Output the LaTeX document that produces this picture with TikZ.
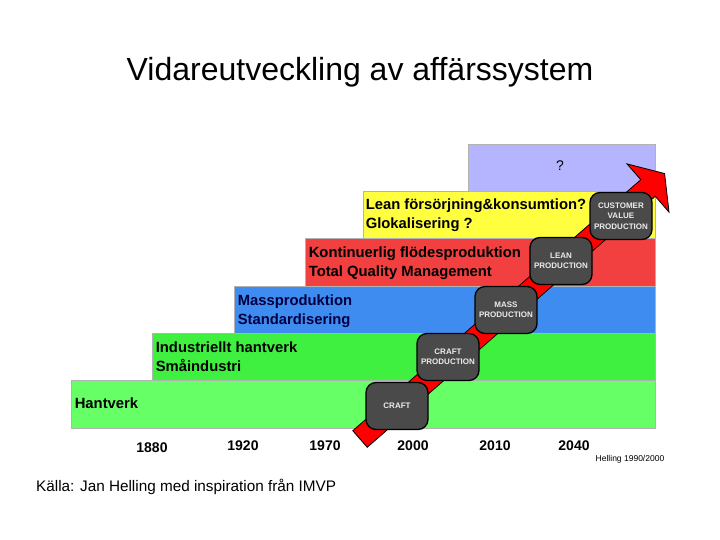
\documentclass[tikz,border=0pt]{standalone}
\usepackage{fontspec}
\setmainfont{Liberation Sans}
\usetikzlibrary{positioning,calc}

\definecolor{bandpurple}{HTML}{B4B4FF}
\definecolor{bandyellow}{HTML}{FFFF40}
\definecolor{bandred}{HTML}{F23F3F}
\definecolor{bandblue}{HTML}{3F8CF0}
\definecolor{bandgreen}{HTML}{40F040}
\definecolor{bandlight}{HTML}{66FF66}
\definecolor{stagegray}{HTML}{4A4A4A}
\definecolor{navytext}{HTML}{000040}

\begin{document}
\begin{tikzpicture}[x=1pt,y=1pt,
		band/.style={anchor=north east,inner sep=0pt,draw=gray!60,line width=0.4pt},
		bandtext/.style={anchor=north west,align=left,inner sep=0pt,font=\fontsize{14.8}{18.5}\selectfont\bfseries},
		stage/.style={rounded corners=10pt,fill=stagegray,draw=black,line width=1.3pt,minimum width=62,minimum height=47,inner sep=1pt,align=center,text=gray!15,font=\fontsize{8}{10.5}\selectfont\bfseries},
		year/.style={font=\fontsize{14}{14}\selectfont\bfseries}]
		\useasboundingbox (0,0) rectangle (720,540);

		\node[font=\fontsize{32}{32}\selectfont]	(title)	at (360,468)	{Vidareutveckling av affärssystem};

		% bands, lowest first
		\node[band,fill=bandlight,minimum width=584,minimum height=48]	(hantverk)	at (655,160)	{};
		\node[band,fill=bandgreen,minimum width=503,minimum height=47]	(industri)	at (655,207)	{};
		\node[band,fill=bandblue,minimum width=421,minimum height=47]	(mass)		at (655,254)	{};
		\node[band,fill=bandred,minimum width=350,minimum height=48]		(kont)		at (655,302)	{};
		\node[band,fill=bandyellow,minimum width=292,minimum height=47]	(lean)		at (655,349)	{};
		\node[band,fill=bandpurple,minimum width=187,minimum height=47]	(future)	at (655,396)	{};

		\node[bandtext,below right=18pt and 4pt of hantverk.north west]	(t0)	{Hantverk};
		\node[bandtext,below right=9pt and 4pt of industri.north west]	(t1)	{Industriellt hantverk\\Småindustri};
		\node[bandtext,text=navytext,below right=9pt and 4pt of mass.north west]	(t2)	{Massproduktion\\Standardisering};
		\node[bandtext,below right=9pt and 4pt of kont.north west]		(t3)	{Kontinuerlig flödesproduktion\\Total Quality Management};
		\node[bandtext,below right=8pt and 3pt of lean.north west]		(t4)	{Lean försörjning\&konsumtion?\\Glokalisering ?};
		\node[font=\fontsize{14}{14}\selectfont]	(t5)	at (560,374)	{?};

		% the arrow
		\coordinate	(tail)	at (360,101);
		\coordinate	(head)	at (648,352);
		\draw[fill=red,line width=0.8pt,line join=miter]
			($(tail)!11pt!90:(head)$) -- ($(head)!11pt!-90:(tail)$) -- ($(head)!32pt!-90:(tail)$)
			-- ($(head)!-22pt!(tail)$)
			-- ($(head)!32pt!90:(tail)$) -- ($(head)!11pt!90:(tail)$) -- ($(tail)!11pt!-90:(head)$) -- cycle;

		\node[stage]	(craft)		at (397,134)	{CRAFT};
		\node[stage]	(craftprod)	at (448,183)	{CRAFT\\PRODUCTION};
		\node[stage]	(massprod)	at (506,230)	{MASS\\PRODUCTION};
		\node[stage]	(leanprod)	at (561,279)	{LEAN\\PRODUCTION};
		\node[stage]	(cvp)		at (621,324)	{CUSTOMER\\VALUE\\PRODUCTION};

		\node[year]	(y1880)	at (152,92)	{1880};
		\node[year]	(y1920)	at (243,94)	{1920};
		\node[year]	(y1970)	at (325,94)	{1970};
		\node[year]	(y2000)	at (413,94)	{2000};
		\node[year]	(y2010)	at (495,94)	{2010};
		\node[year]	(y2040)	at (574,94)	{2040};
		\node[font=\fontsize{8.5}{8.5}\selectfont]	(helling)	at (630,81)	{Helling 1990/2000};

		\node[anchor=west,inner sep=0pt,font=\fontsize{15.3}{15.3}\selectfont]	(source)	at (36,53)	{Källa: Jan Helling med inspiration från IMVP};
	\end{tikzpicture}
\end{document}
